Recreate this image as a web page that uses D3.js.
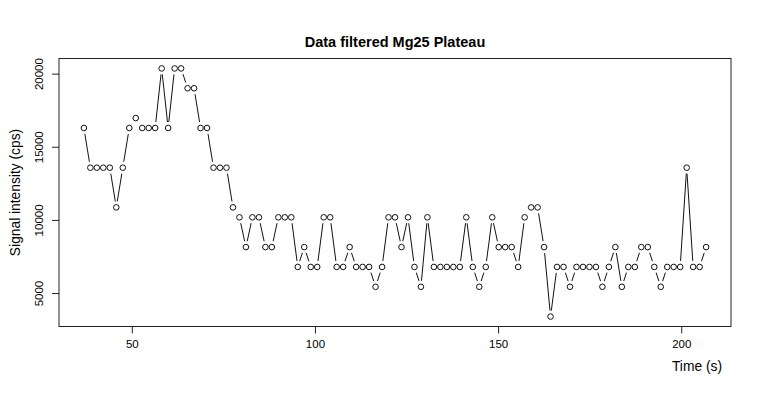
<!DOCTYPE html>
<html>
<head>
<meta charset="utf-8">
<script src="https://cdn.jsdelivr.net/npm/d3@7"></script>
<style>
  html, body { margin: 0; padding: 0; background: #fff; }
  svg { display: block; font-family: "Liberation Sans", Arial, Helvetica, sans-serif; }
</style>
</head>
<body>
<svg id="chart" width="760" height="400"></svg>
<script>
// ---- data ----
const title = "Data filtered Mg25 Plateau";
const xLabel = "Time (s)";
const yLabel = "Signal intensity (cps)";

const timeSec = [
  36.92, 38.69, 40.46, 42.23, 44.00, 45.77, 47.54, 49.31, 51.08, 52.85,
  54.62, 56.38, 58.15, 59.92, 61.69, 63.46, 65.23, 67.00, 68.77, 70.54,
  72.31, 74.08, 75.85, 77.62, 79.39, 81.16, 82.93, 84.70, 86.47, 88.24,
  90.01, 91.77, 93.54, 95.31, 97.08, 98.85, 100.62, 102.39, 104.16, 105.93,
  107.70, 109.47, 111.24, 113.01, 114.78, 116.55, 118.32, 120.09, 121.86, 123.63,
  125.40, 127.16, 128.93, 130.70, 132.47, 134.24, 136.01, 137.78, 139.55, 141.32,
  143.09, 144.86, 146.63, 148.40, 150.17, 151.94, 153.71, 155.48, 157.25, 159.02,
  160.79, 162.55, 164.32, 166.09, 167.86, 169.63, 171.40, 173.17, 174.94, 176.71,
  178.48, 180.25, 182.02, 183.79, 185.56, 187.33, 189.10, 190.87, 192.64, 194.41,
  196.18, 197.94, 199.71, 201.48, 203.25, 205.02, 206.79
];

const signalCps = [
  16284, 13570, 13570, 13570, 13570, 10856, 13570, 16284, 16963, 16284,
  16284, 16284, 20355, 16284, 20355, 20355, 18998, 18998, 16284, 16284,
  13570, 13570, 13570, 10856, 10177, 8142, 10177, 10177, 8142, 8142,
  10177, 10177, 10177, 6785, 8142, 6785, 6785, 10177, 10177, 6785,
  6785, 8142, 6785, 6785, 6785, 5428, 6785, 10177, 10177, 8142,
  10177, 6785, 5428, 10177, 6785, 6785, 6785, 6785, 6785, 10177,
  6785, 5428, 6785, 10177, 8142, 8142, 8142, 6785, 10177, 10856,
  10856, 8142, 3392, 6785, 6785, 5428, 6785, 6785, 6785, 6785,
  5428, 6785, 8142, 5428, 6785, 6785, 8142, 8142, 6785, 5428,
  6785, 6785, 6785, 13570, 6785, 6785, 8142
];

const xTicks = [50, 100, 150, 200];
const yTicks = [5000, 10000, 15000, 20000];

// ---- layout ----
const box = { left: 59, right: 731, top: 58.5, bottom: 326.5 };
const svg = d3.select("#chart");

function padded(ext) {
  const r = ext[1] - ext[0];
  return [ext[0] - 0.04 * r, ext[1] + 0.04 * r];
}

const x = d3.scaleLinear().domain(padded(d3.extent(timeSec))).range([box.left, box.right]);
const y = d3.scaleLinear().domain(padded(d3.extent(signalCps))).range([box.bottom, box.top]);

const pts = timeSec.map((t, i) => ({ t, v: signalCps[i] }));

// plot box
svg.append("rect")
  .attr("x", box.left).attr("y", box.top)
  .attr("width", box.right - box.left).attr("height", box.bottom - box.top)
  .attr("fill", "none").attr("stroke", "#222").attr("stroke-width", 1);

// x axis
const xAxis = d3.axisBottom(x).tickValues(xTicks).tickSize(7).tickPadding(6).tickFormat(d3.format("d"));
const gx = svg.append("g").attr("transform", `translate(0,${box.bottom})`).call(xAxis);
gx.select(".domain").remove();
gx.selectAll(".tick line").attr("stroke", "#222");
gx.selectAll(".tick text").attr("font-size", "11.5px").attr("fill", "#000")
  .attr("font-family", '"Liberation Sans", Arial, sans-serif');

// y axis (labels rotated, like R's default)
const yAxis = d3.axisLeft(y).tickValues(yTicks).tickSize(7).tickFormat(d3.format("d"));
const gy = svg.append("g").attr("transform", `translate(${box.left},0)`).call(yAxis);
gy.select(".domain").remove();
gy.selectAll(".tick line").attr("stroke", "#222");
gy.selectAll(".tick text")
  .attr("font-size", "11.5px").attr("fill", "#000")
  .attr("font-family", '"Liberation Sans", Arial, sans-serif')
  .attr("x", null).attr("dy", null)
  .attr("text-anchor", "middle")
  .attr("transform", "translate(-16,0) rotate(-90)");

// connecting segments with gaps around points (R type = "b")
const gap = 6;
const segs = [];
for (let i = 0; i < pts.length - 1; i++) {
  const x1 = x(pts[i].t), y1 = y(pts[i].v);
  const x2 = x(pts[i + 1].t), y2 = y(pts[i + 1].v);
  const dx = x2 - x1, dy = y2 - y1;
  const len = Math.hypot(dx, dy);
  if (len > 2 * gap) {
    const ux = dx / len, uy = dy / len;
    segs.push([x1 + ux * gap, y1 + uy * gap, x2 - ux * gap, y2 - uy * gap]);
  }
}
svg.append("g").selectAll("line").data(segs).join("line")
  .attr("x1", d => d[0]).attr("y1", d => d[1])
  .attr("x2", d => d[2]).attr("y2", d => d[3])
  .attr("stroke", "#111").attr("stroke-width", 1);

// points
svg.append("g").selectAll("circle").data(pts).join("circle")
  .attr("cx", d => x(d.t)).attr("cy", d => y(d.v))
  .attr("r", 2.8)
  .attr("fill", "none").attr("stroke", "#111").attr("stroke-width", 1);

// title
svg.append("text")
  .attr("x", (box.left + box.right) / 2).attr("y", 47)
  .attr("text-anchor", "middle")
  .attr("font-size", "14.5px").attr("font-weight", "bold")
  .text(title);

// x label (right-aligned)
svg.append("text")
  .attr("x", 722).attr("y", 371)
  .attr("text-anchor", "end")
  .attr("font-size", "13.8px")
  .text(xLabel);

// y label
svg.append("text")
  .attr("transform", `translate(20,${(box.top + box.bottom) / 2}) rotate(-90)`)
  .attr("text-anchor", "middle")
  .attr("font-size", "13.8px")
  .text(yLabel);
</script>
</body>
</html>
